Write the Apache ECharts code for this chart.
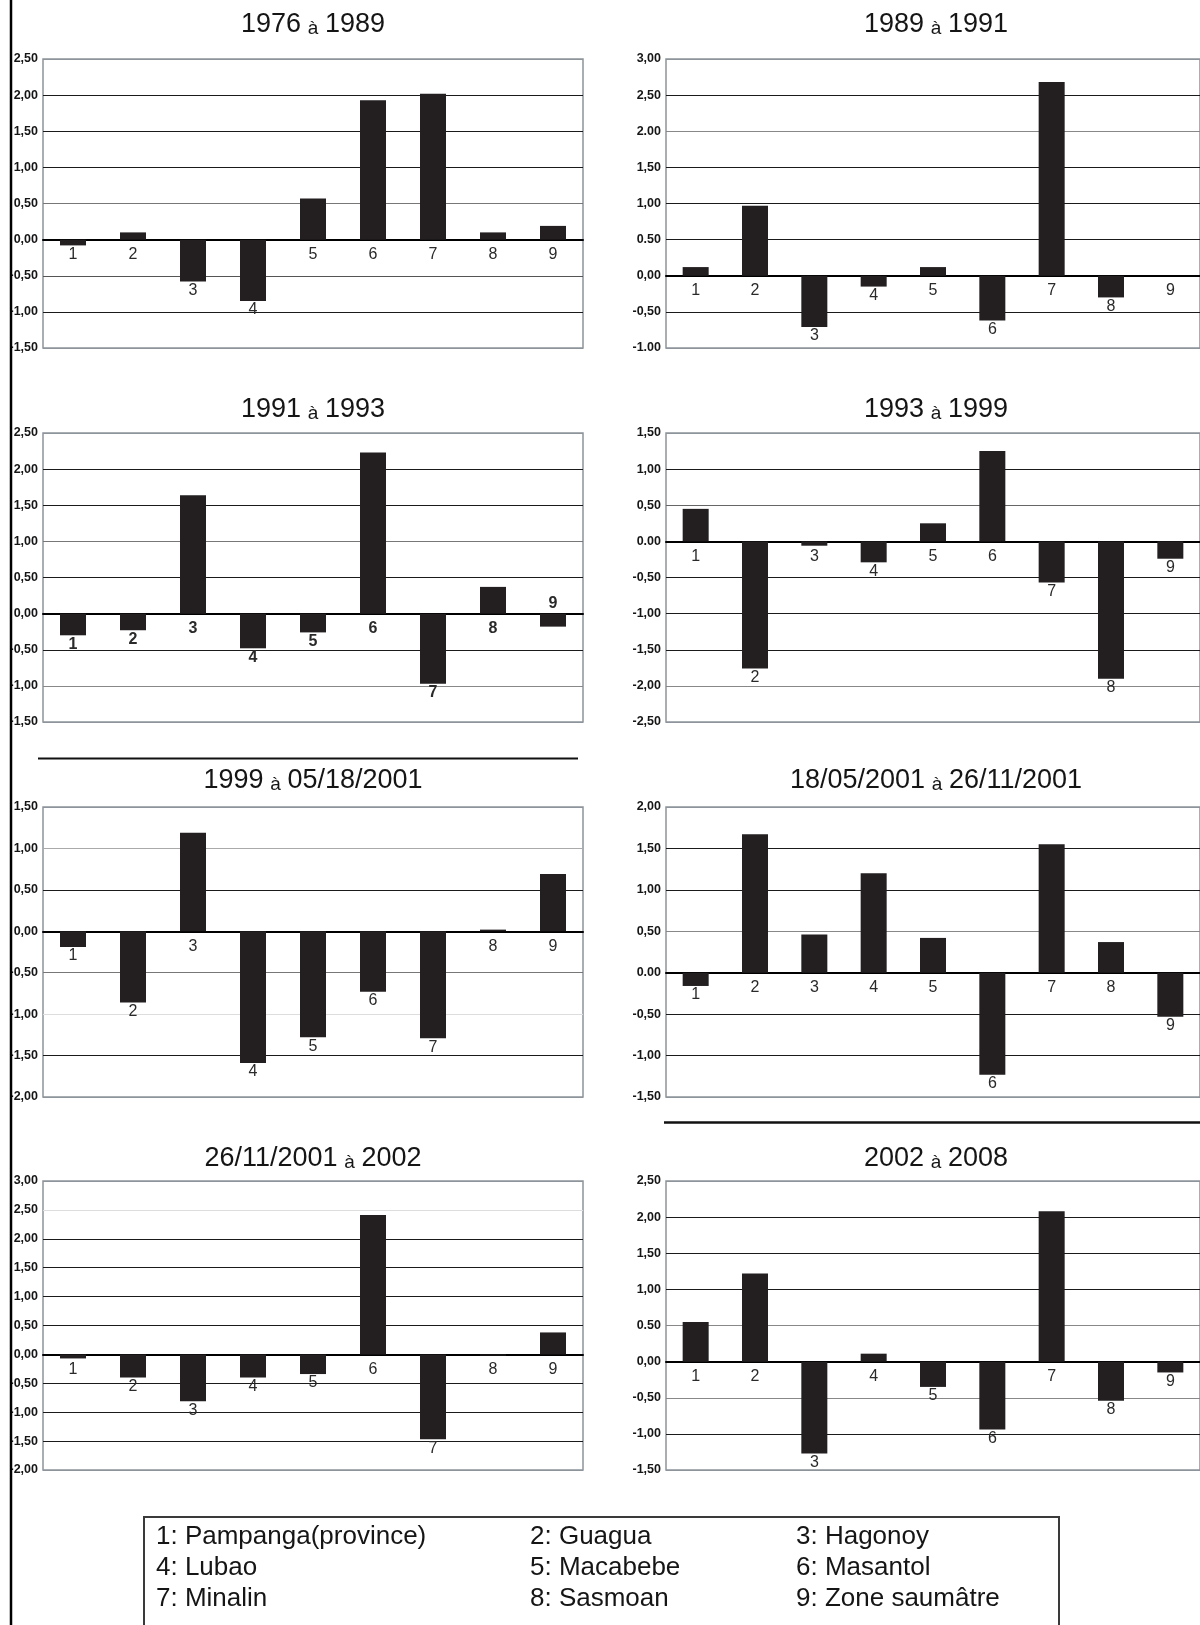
<!DOCTYPE html>
<html>
<head>
<meta charset="utf-8">
<title>Variations par période</title>
<script src="https://cdn.jsdelivr.net/npm/echarts@6/dist/echarts.min.js"></script>
<style>
  html, body { margin: 0; padding: 0; background: #fff; }
  #chart { width: 1200px; height: 1625px; }
</style>
</head>
<body>
<div id="chart"></div>
<script>
// numéros des communes (axe des catégories)
const categories = ["1", "2", "3", "4", "5", "6", "7", "8", "9"]

// valeurs lues sur chaque graphique (communes 1 à 9)
const v1976_1989 = [-0.08, 0.10, -0.58, -0.85, 0.57, 1.93, 2.02, 0.10, 0.19]
const v1989_1991 = [0.12, 0.97, -0.71, -0.15, 0.12, -0.62, 2.68, -0.30, 0]
const v1991_1993 = [-0.30, -0.23, 1.64, -0.48, -0.26, 2.23, -0.97, 0.37, -0.18]
const v1993_1999 = [0.45, -1.76, -0.06, -0.29, 0.25, 1.25, -0.57, -1.90, -0.24]
const v1999_2001 = [-0.19, -0.86, 1.19, -1.59, -1.28, -0.73, -1.29, 0.02, 0.69]
const v2001_2001 = [-0.16, 1.67, 0.46, 1.20, 0.42, -1.23, 1.55, 0.37, -0.53]
const v2001_2002 = [-0.07, -0.40, -0.81, -0.40, -0.34, 2.41, -1.47, -0.02, 0.38]
const v2002_2008 = [0.55, 1.22, -1.27, 0.11, -0.35, -0.94, 2.08, -0.54, -0.15]

// libellés des graduations, du haut vers le bas, tels qu'imprimés
const t1976_1989 = ["2,50", "2,00", "1,50", "1,00", "0,50", "0,00", "-0,50", "-1,00", "-1,50"]
const t1989_1991 = ["3,00", "2,50", "2.00", "1,50", "1,00", "0.50", "0,00", "-0,50", "-1.00"]
const t1991_1993 = ["2,50", "2,00", "1,50", "1,00", "0,50", "0,00", "-0,50", "-1,00", "-1,50"]
const t1993_1999 = ["1,50", "1,00", "0,50", "0.00", "-0,50", "-1,00", "-1,50", "-2,00", "-2,50"]
const t1999_2001 = ["1,50", "1,00", "0,50", "0,00", "-0,50", "-1,00", "-1,50", "-2,00"]
const t2001_2001 = ["2,00", "1,50", "1,00", "0,50", "0.00", "-0,50", "-1,00", "-1,50"]
const t2001_2002 = ["3,00", "2,50", "2,00", "1,50", "1,00", "0,50", "0,00", "-0,50", "-1,00", "-1,50", "-2,00"]
const t2002_2008 = ["2,50", "2,00", "1,50", "1,00", "0.50", "0,00", "-0,50", "-1,00", "-1,50"]

// titres : début et fin de période
const periodFrom = ["1976", "1989", "1991", "1993", "1999", "18/05/2001", "26/11/2001", "2002"]
const periodTo = ["1989", "1991", "1993", "1999", "05/18/2001", "26/11/2001", "2002", "2008"]

// légende
const legendItems = [
  "1: Pampanga(province)", "2: Guagua", "3: Hagonoy",
  "4: Lubao", "5: Macabebe", "6: Masantol",
  "7: Minalin", "8: Sasmoan", "9: Zone saumâtre"
]

const FONT = "'Liberation Sans', Arial, Helvetica, sans-serif"

// mise en page des 8 graphiques
const panels = [
  { values: v1976_1989, ticks: t1976_1989, min: -1.5, max: 2.5, left: 43, top: 59, height: 289, titleY: 23, shade: { "0.5": "#777", "-0.5": "#555" } },
  { values: v1989_1991, ticks: t1989_1991, min: -1, max: 3, left: 666, top: 59, height: 289, titleY: 23, shade: { "2": "#888" } },
  { values: v1991_1993, ticks: t1991_1993, min: -1.5, max: 2.5, left: 43, top: 433, height: 289, titleY: 408, shade: { "1": "#777", "-1": "#888" }, bold: true },
  { values: v1993_1999, ticks: t1993_1999, min: -2.5, max: 1.5, left: 666, top: 433, height: 289, titleY: 408, shade: { "0.5": "#666", "-2": "#888" } },
  { values: v1999_2001, ticks: t1999_2001, min: -2, max: 1.5, left: 43, top: 807, height: 290, titleY: 779, shade: { "1": "#aaa", "-0.5": "#777", "-1": "#ddd" } },
  { values: v2001_2001, ticks: t2001_2001, min: -1.5, max: 2, left: 666, top: 807, height: 290, titleY: 779, shade: { "0.5": "#888" } },
  { values: v2001_2002, ticks: t2001_2002, min: -2, max: 3, left: 43, top: 1181, height: 289, titleY: 1157, shade: { "2.5": "#ddd" } },
  { values: v2002_2008, ticks: t2002_2008, min: -1.5, max: 2.5, left: 666, top: 1181, height: 289, titleY: 1157, shade: { "0.5": "#888", "-0.5": "#888" } }
]
const PLOT_W = 540
const FRAME = "#8d949b"

const myChart = echarts.init(document.getElementById("chart"))

const grids = []
const xAxes = []
const yAxes = []
const series = []
const graphics = []

panels.forEach(function (p, i) {
  grids.push({
    left: p.left, top: p.top, width: PLOT_W, height: p.height,
    show: true, borderColor: FRAME, borderWidth: 1.5, backgroundColor: "transparent"
  })

  xAxes.push({
    gridIndex: i,
    type: "category",
    data: categories,
    axisLabel: { show: false },
    axisTick: { show: false },
    splitLine: { show: false },
    axisLine: { onZero: true, lineStyle: { color: "#000", width: 2 } }
  })

  // couleur de chaque ligne de grille, de bas en haut
  const lineColors = []
  for (let k = 0; k < p.ticks.length; k++) {
    const v = Math.round((p.min + k * 0.5) * 10) / 10
    if (k === 0 || k === p.ticks.length - 1) lineColors.push(FRAME)
    else lineColors.push(p.shade[String(v)] || "#1a1a1a")
  }

  yAxes.push({
    gridIndex: i,
    type: "value",
    min: p.min,
    max: p.max,
    interval: 0.5,
    axisLine: { show: false },
    axisTick: { show: false },
    axisLabel: {
      margin: 5,
      fontSize: 12.5,
      fontWeight: "bold",
      fontFamily: FONT,
      color: "#151515",
      formatter: function (v) {
        return p.ticks[Math.round((p.max - v) / 0.5)]
      }
    },
    splitLine: { show: true, lineStyle: { color: lineColors, width: 1 } }
  })

  // numéro sous l'axe, ou sous le bout de la barre si elle descend
  const ppu = p.height / (p.max - p.min)
  const data = p.values.map(function (v, k) {
    let dist = 7
    if (v < 0) dist = Math.max(7 - Math.abs(v) * ppu, 1)
    const item = { value: v, label: { distance: dist } }
    if (p.bold && k === 8) item.label = { position: "top", distance: 2 }
    return item
  })

  series.push({
    type: "bar",
    xAxisIndex: i,
    yAxisIndex: i,
    barWidth: 26,
    itemStyle: { color: "#231f20" },
    label: {
      show: true,
      position: "bottom",
      formatter: "{b}",
      fontSize: 16,
      fontFamily: FONT,
      fontWeight: p.bold ? "bold" : "normal",
      color: "#2a2a2a"
    },
    data: data
  })

  // titre de la période
  graphics.push({
    type: "text",
    x: p.left + PLOT_W / 2,
    y: p.titleY,
    z: 50,
    style: {
      text: "{a|" + periodFrom[i] + "}  {b|à}  {a|" + periodTo[i] + "}",
      align: "center",
      verticalAlign: "middle",
      rich: {
        a: { fontSize: 27, fontFamily: FONT, fill: "#151515", verticalAlign: "bottom", lineHeight: 30 },
        b: { fontSize: 19, fontFamily: FONT, fill: "#151515", verticalAlign: "bottom", lineHeight: 30 }
      }
    }
  })
})

// trait vertical à gauche et séparateurs
graphics.push(
  { type: "line", z: 100, shape: { x1: 11, y1: 0, x2: 11, y2: 1625 }, style: { stroke: "#000", lineWidth: 2.5 } },
  { type: "line", z: 100, shape: { x1: 38, y1: 758.5, x2: 578, y2: 758.5 }, style: { stroke: "#111", lineWidth: 2 } },
  { type: "line", z: 100, shape: { x1: 664, y1: 1122.5, x2: 1200, y2: 1122.5 }, style: { stroke: "#111", lineWidth: 2.5 } }
)

// cadre de la légende
graphics.push({
  type: "rect", z: 100,
  shape: { x: 144, y: 1517, width: 915, height: 130 },
  style: { fill: "#fff", stroke: "#3a3a3a", lineWidth: 2 }
})
const legendCols = [156, 530, 796]
const legendRows = [1537, 1568, 1599]
legendItems.forEach(function (txt, k) {
  graphics.push({
    type: "text", z: 101,
    x: legendCols[k % 3],
    y: legendRows[Math.floor(k / 3)],
    style: { text: txt, fontSize: 26, fontFamily: FONT, fill: "#151515", verticalAlign: "middle", align: "left" }
  })
})

const option = {
  backgroundColor: "#fff",
  animation: false,
  grid: grids,
  xAxis: xAxes,
  yAxis: yAxes,
  series: series,
  graphic: graphics
}
myChart.setOption(option)

window.addEventListener("resize", function () {
  myChart.resize()
})
</script>
</body>
</html>
